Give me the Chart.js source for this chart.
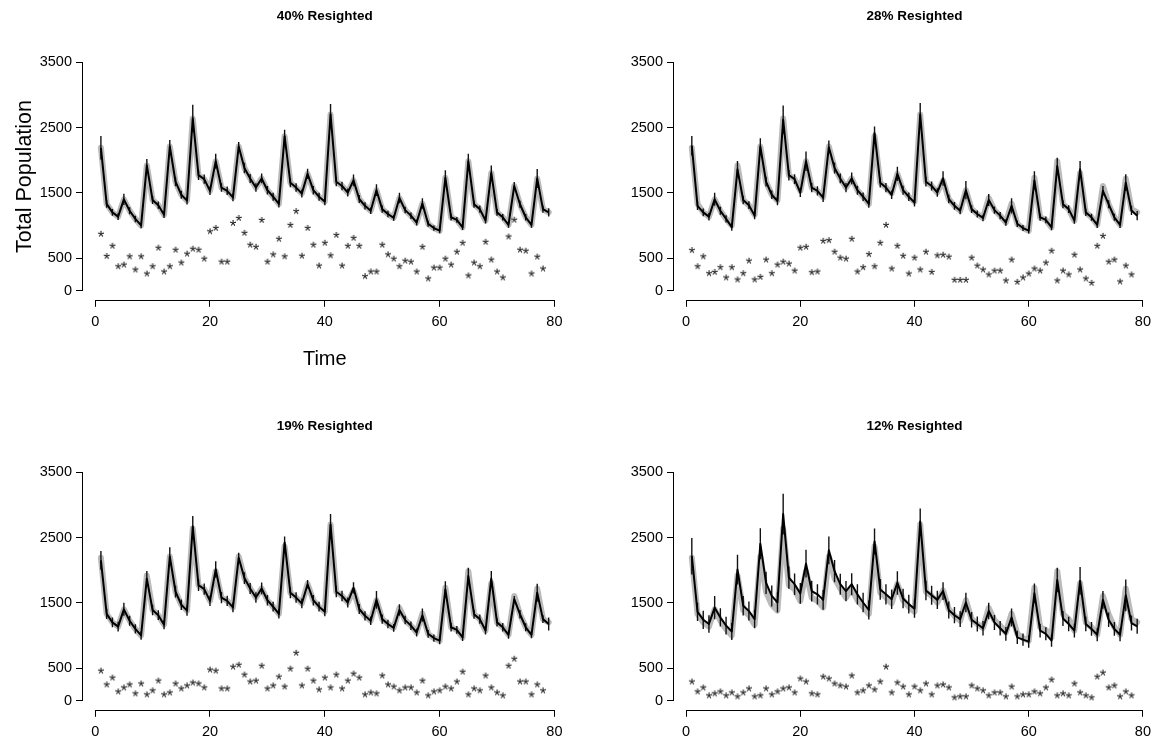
<!DOCTYPE html>
<html>
<head>
<meta charset="utf-8">
<script src="https://cdn.jsdelivr.net/npm/chart.js@4.4.1/dist/chart.umd.min.js"></script>
<style>
  html, body { margin: 0; padding: 0; background: #fff; }
  #wrap { position: relative; width: 1160px; height: 748px; overflow: hidden; }
  .panel { position: absolute; }
</style>
</head>
<body>
<div id="wrap">
  <div class="panel" style="left:0;top:0;width:591px;height:410px"><canvas id="c1"></canvas></div>
  <div class="panel" style="left:591px;top:0;width:569px;height:410px"><canvas id="c2"></canvas></div>
  <div class="panel" style="left:0;top:410px;width:591px;height:338px"><canvas id="c3"></canvas></div>
  <div class="panel" style="left:591px;top:410px;width:569px;height:338px"><canvas id="c4"></canvas></div>
</div>
<script>
'use strict';

// time steps and axis ticks
let times = Array.from({length: 79}, (_, i) => i + 1);
let xTicks = [0, 20, 40, 60, 80];
let yTicks = [0, 500, 1500, 2500, 3500];

// true population (grey line), same in every panel
let trueN = [2190,1330,1200,1135,1400,1225,1100,1000,1920,1390, 1310,1165,2210,1670,1470,1380,2640,1770,1710,1530,
  1985,1580,1530,1430,2210,1880,1720,1580,1720,1540, 1440,1330,2365,1655,1580,1490,1790,1540,1440,1365,
  2700,1670,1605,1505,1690,1405,1300,1225,1540,1250, 1175,1115,1420,1235,1150,1045,1335,1025,960,920,
  1730,1125,1085,970,1985,1325,1250,1075,1805,1200, 1125,1010,1605,1325,1125,1010,1720,1250,1200];

// estimates (black line)
let est40 = [2190,1330,1200,1135,1400,1225,1100,1000,1920,1390, 1310,1165,2210,1670,1470,1380,2640,1770,1710,1530,
  1985,1580,1530,1430,2210,1880,1720,1580,1720,1540, 1440,1330,2365,1655,1580,1490,1790,1540,1440,1365,
  2700,1670,1605,1505,1690,1405,1300,1225,1540,1250, 1175,1115,1420,1235,1150,1045,1335,1025,960,920,
  1730,1125,1085,970,1985,1325,1250,1075,1805,1200, 1125,1010,1605,1325,1125,1010,1720,1250,1200];
let est28 = [2220,1300,1200,1135,1400,1225,1100,975,1860,1390, 1310,1150,2210,1670,1470,1375,2620,1770,1710,1505,
  1985,1580,1530,1425,2200,1880,1720,1580,1720,1540, 1440,1330,2415,1655,1580,1470,1790,1540,1440,1350,
  2700,1670,1605,1505,1720,1405,1300,1225,1540,1250, 1175,1115,1390,1235,1150,1045,1300,1025,960,920,
  1690,1125,1085,970,1910,1325,1250,1075,1860,1200, 1125,1010,1530,1325,1125,1010,1655,1230,1150];
let est19 = [2150,1330,1200,1135,1400,1225,1100,1000,1870,1390, 1310,1165,2210,1670,1470,1380,2670,1770,1710,1530,
  2010,1580,1530,1430,2190,1880,1720,1580,1720,1540, 1440,1330,2425,1655,1580,1490,1785,1540,1440,1365,
  2695,1670,1605,1505,1730,1405,1300,1225,1545,1250, 1175,1115,1390,1235,1150,1045,1310,1025,960,920,
  1705,1125,1085,970,1910,1325,1250,1075,1870,1200, 1125,1010,1555,1325,1125,1010,1655,1250,1175];
let est12 = [2215,1360,1240,1175,1425,1275,1150,1060,2010,1455, 1375,1250,2405,1805,1605,1505,2860,1885,1785,1645,
  2100,1680,1630,1545,2305,1985,1785,1680,1785,1630, 1505,1390,2440,1705,1630,1555,1805,1565,1480,1410,
  2745,1690,1615,1545,1680,1390,1310,1250,1505,1240, 1175,1110,1375,1200,1110,1025,1275,970,935,905,
  1645,1075,1025,920,1850,1260,1175,1075,1835,1175, 1100,1010,1545,1240,1100,1010,1615,1190,1140];

// error bar half widths
let se40 = [180,60,50,50,85,55,50,45,100,60, 55,50,100,70,60,60,210,75,70,65, 115,65,65,60,70,80,70,65,75,65,
  60,55,100,70,65,60,80,65,60,55, 160,70,65,60,90,60,55,50,90,55, 50,45,80,50,50,45,80,45,40,40,
  115,50,45,40,115,55,55,45,115,50, 50,45,60,55,50,45,145,55,65];
let se28 = [150,65,60,60,100,60,55,55,127,65, 60,55,126,75,65,65,218,80,75,70, 150,70,70,65,100,85,75,70,90,70,
  65,60,100,75,70,65,110,70,65,60, 177,75,70,65,111,65,60,55,140,60, 55,50,92,55,55,50,117,50,45,45,
  142,55,50,45,126,60,60,50,127,55, 55,50,76,60,55,50,128,70,70];
let se19 = [145,80,75,75,100,75,70,65,117,80, 75,70,141,90,80,80,162,90,85,80, 126,85,80,75,76,90,85,80,90,80,
  75,70,92,85,80,75,65,80,75,70, 168,85,80,75,87,75,70,65,137,70, 65,60,87,65,65,60,101,60,55,55,
  127,65,60,55,126,70,70,60,117,65, 65,60,51,65,60,55,137,60,100];
let se12 = [280,140,140,135,178,140,135,130,228,150, 145,140,237,170,160,155,313,170,165,160, 212,160,155,150,213,170,160,155,170,155,
  150,145,200,160,155,150,180,150,145,140, 200,150,145,140,137,130,125,120,150,120, 115,110,126,115,110,105,137,100,95,95,
  152,105,100,95,187,115,110,105,213,110, 105,100,137,110,105,100,244,115,115];

// resighted counts (stars), times 1..78
let seen40 = [871,531,688,374,400,526,324,526,263,374, 658,293,374,628,430,567,643,628,491,910,
  962,445,445,1038,1114,886,704,673,1084,445, 556,795,526,1008,1220,536,962,704,384,734,
  541,855,384,688,810,688,222,293,293,704, 556,491,374,460,445,293,673,187,354,354,
  491,400,597,734,233,430,374,749,476,293, 202,830,1088,628,612,263,521,339];
let seen28 = [622,374,526,267,288,359,202,359,172,267, 460,172,212,476,267,400,445,415,308,658,
  673,283,293,764,774,597,506,491,795,293, 359,561,374,734,1008,339,688,536,263,506,
  324,597,288,541,551,521,166,166,166,506, 384,324,248,308,308,156,476,135,202,263,
  339,308,430,612,156,308,248,551,324,187, 120,688,840,445,476,141,384,248];
let seen19 = [460,248,354,141,202,248,111,263,96,157, 308,96,126,263,187,233,278,263,202,476,
  460,187,187,521,551,400,293,308,536,187, 233,369,217,491,734,233,491,308,172,354,
  202,400,187,308,415,354,96,126,111,385, 248,217,157,202,202,126,308,81,141,157,
  217,187,293,445,96,187,157,385,202,126, 81,536,643,293,293,96,248,157];
let seen12 = [293,141,202,81,111,141,81,126,65,126, 187,65,81,187,96,141,187,202,126,339,
  293,111,96,369,339,263,233,217,385,126, 157,233,172,293,521,126,278,217,96,217,
  157,263,96,233,248,202,50,65,65,233, 187,157,81,126,126,65,217,65,96,96,
  141,111,202,323,81,111,81,263,126,81, 50,369,430,202,233,65,141,81];

Chart.defaults.font.family = '"Liberation Sans", Arial, Helvetica, sans-serif';
Chart.defaults.color = '#000';

// a small '*' glyph used as point marker
function makeStar() {
  let c = document.createElement('canvas');
  c.width = 12; c.height = 12;
  let g = c.getContext('2d');
  g.fillStyle = '#111';
  g.font = '17px "Liberation Sans", Arial, sans-serif';
  g.textAlign = 'center';
  g.textBaseline = 'alphabetic';
  let m = g.measureText('*');
  g.fillText('*', 6, 6 + (m.actualBoundingBoxAscent - m.actualBoundingBoxDescent) / 2);
  return c;
}
let star = makeStar();

// R style axis lines: only from first to last tick
let rAxes = {
  id: 'rAxes',
  afterDraw(chart) {
    let {ctx, chartArea, scales} = chart;
    let x = scales.x, y = scales.y;
    ctx.save();
    ctx.strokeStyle = '#000';
    ctx.lineWidth = 1;
    ctx.beginPath();
    let yb = Math.round(chartArea.bottom) + 0.5;
    ctx.moveTo(x.getPixelForValue(xTicks[0]), yb);
    ctx.lineTo(x.getPixelForValue(xTicks[xTicks.length - 1]), yb);
    let xl = Math.round(chartArea.left) - 0.5;
    ctx.moveTo(xl, y.getPixelForValue(yTicks[0]));
    ctx.lineTo(xl, y.getPixelForValue(yTicks[yTicks.length - 1]));
    ctx.stroke();
    ctx.restore();
  }
};

function pts(ys) {
  return ys.map((v, i) => ({x: times[i], y: v}));
}

function errPts(ys, se) {
  let out = [];
  ys.forEach((v, i) => {
    out.push({x: times[i], y: v - se[i]});
    out.push({x: times[i], y: v + se[i]});
    out.push({x: times[i], y: null});
  });
  return out;
}

function makePanel(id, title, est, se, seen, topRow, xTitle, yTitle) {
  let ctx = document.getElementById(id);
  let config = {
    type: 'scatter',
    data: {
      datasets: [
        {
          data: pts(seen),
          pointStyle: star,
          pointRadius: 3,
          showLine: false,
          order: 0
        },
        {
          data: pts(est),
          showLine: true,
          borderColor: '#000',
          borderWidth: 2,
          pointRadius: 0,
          borderJoinStyle: 'round',
          order: 1
        },
        {
          data: errPts(est, se),
          showLine: true,
          spanGaps: false,
          borderColor: '#111',
          borderWidth: 1.4,
          pointRadius: 0,
          order: 2
        },
        {
          data: pts(trueN),
          showLine: true,
          borderColor: '#bababa',
          borderWidth: 6,
          pointRadius: 0,
          borderJoinStyle: 'round',
          borderCapStyle: 'round',
          order: 3
        }
      ]
    },
    options: {
      responsive: true,
      maintainAspectRatio: false,
      animation: false,
      devicePixelRatio: 1,
      events: [],
      layout: {
        padding: {left: 0, right: id === 'c1' || id === 'c3' ? 24.4 : 2.4, top: 0, bottom: topRow ? 30.2 : 8.2}
      },
      plugins: {
        legend: {display: false},
        tooltip: {enabled: false},
        title: {
          display: true,
          text: title,
          fullSize: false,
          color: '#000',
          font: {size: 13.5, weight: 'bold'},
          padding: {top: 8, bottom: 29}
        }
      },
      scales: {
        x: {
          type: 'linear',
          min: -2.12,
          max: 82.12,
          afterBuildTicks: s => { s.ticks = xTicks.map(v => ({value: v})); },
          afterFit: s => { s.height = topRow ? 80 : 30; },
          ticks: {autoSkip: false, maxRotation: 0, color: '#000', font: {size: 14.5}, padding: 6,
            callback: v => String(v)},
          grid: {drawOnChartArea: false, drawTicks: true, tickLength: 7, color: '#000'},
          border: {display: false},
          title: {display: !!xTitle, text: xTitle || '', color: '#000', font: {size: 20}, padding: {top: 0, bottom: 8}}
        },
        y: {
          type: 'linear',
          min: -140,
          max: 3640,
          afterBuildTicks: s => { s.ticks = yTicks.map(v => ({value: v})); },
          afterFit: s => { s.width = 83; },
          ticks: {autoSkip: false, color: '#000', font: {size: 14.5}, padding: 4,
            callback: v => String(v)},
          grid: {drawOnChartArea: false, drawTicks: true, tickLength: 7, color: '#000'},
          border: {display: false},
          title: {display: !!yTitle, text: yTitle || '', color: '#000', font: {size: 21.5}, padding: {top: 12, bottom: 0}}
        }
      }
    },
    plugins: [rAxes]
  };
  new Chart(ctx, config);
}

makePanel('c1', '40% Resighted', est40, se40, seen40, true, 'Time', 'Total Population');
makePanel('c2', '28% Resighted', est28, se28, seen28, true);
makePanel('c3', '19% Resighted', est19, se19, seen19, false);
makePanel('c4', '12% Resighted', est12, se12, seen12, false);
</script>
</body>
</html>
